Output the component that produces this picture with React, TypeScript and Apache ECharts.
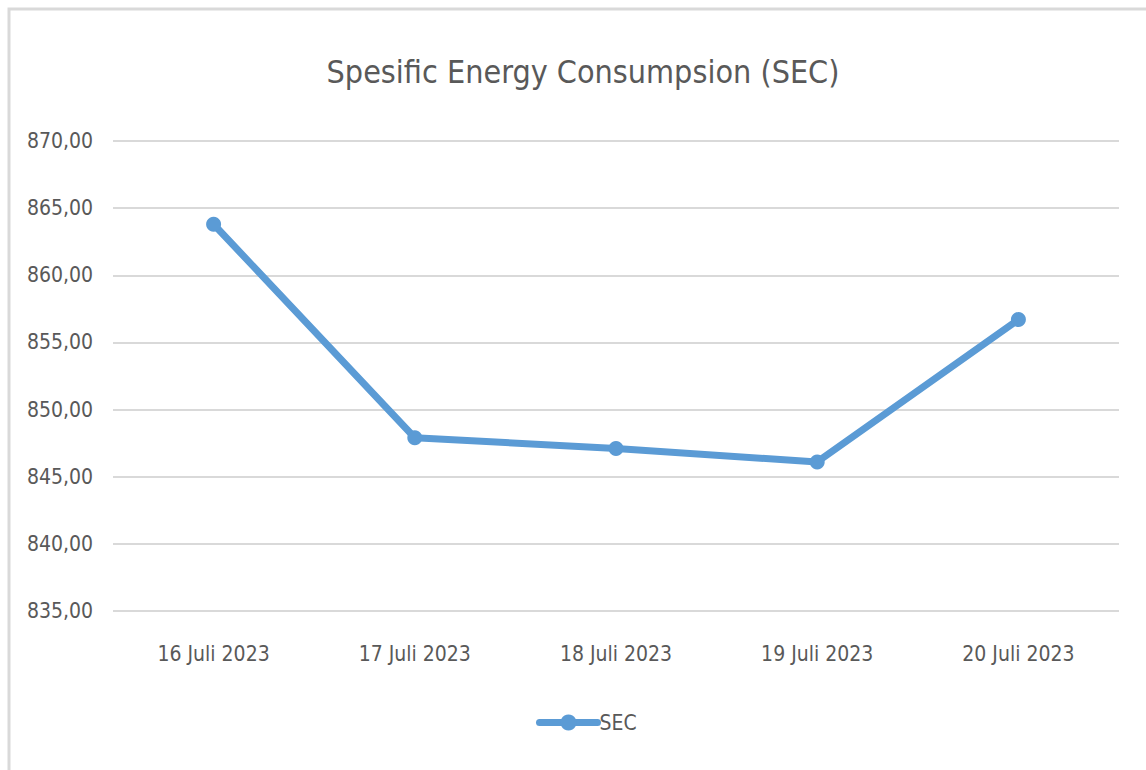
import React, { useEffect, useRef } from "react";
import * as echarts from "echarts";

const categories = ["16 Juli 2023", "17 Juli 2023", "18 Juli 2023", "19 Juli 2023", "20 Juli 2023"];
const secValues = [863.8, 847.9, 847.1, 846.1, 856.7];
const yMin = 835;
const yMax = 870;
const yStep = 5;

const FONT = "'Liberation Sans Narrow', 'DejaVu Sans Condensed', 'Liberation Sans', sans-serif";
const TEXT = "#595959";
const BLUE = "#5B9BD5";

export default function App() {
  const ref = useRef<HTMLDivElement>(null);
  useEffect(() => {
    if (!ref.current) return;
    const chart = echarts.init(ref.current, null, { renderer: "svg" });
    chart.setOption({
      animation: false,
      backgroundColor: "#ffffff",
      textStyle: { fontFamily: FONT },
      title: {
        text: "Spesific Energy Consumpsion (SEC)",
        left: 578,
        top: 51,
        textAlign: "center",
        textStyle: { fontFamily: FONT, fontSize: 32, fontWeight: "normal", color: TEXT },
      },
      graphic: [
        {
          type: "rect",
          shape: { x: 9, y: 9, width: 1200, height: 800 },
          style: { fill: "none", stroke: "#d9d9d9", lineWidth: 3 },
          silent: true,
        },
      ],
      grid: { left: 113, right: 27, top: 141, bottom: 159, containLabel: false },
      legend: {
        bottom: 32,
        left: 531,
        data: ["SEC"],
        itemWidth: 58,
        itemHeight: 20,
        itemGap: 4,
        lineStyle: { width: 7, cap: "round" },
        textStyle: { fontFamily: FONT, fontSize: 21, color: TEXT, padding: [0, 0, 0, -3] },
      },
      xAxis: {
        type: "category",
        data: categories,
        boundaryGap: true,
        axisLine: { show: false },
        axisTick: { show: false },
        axisLabel: { fontFamily: FONT, fontSize: 21, color: TEXT, margin: 32 },
      },
      yAxis: {
        type: "value",
        min: yMin,
        max: yMax,
        interval: yStep,
        axisLine: { show: false },
        axisTick: { show: false },
        splitLine: { lineStyle: { color: "#d9d9d9", width: 2 } },
        axisLabel: {
          fontFamily: FONT,
          fontSize: 21,
          color: TEXT,
          margin: 20,
          formatter: (v: number) => v.toFixed(2).replace(".", ","),
        },
      },
      series: [
        {
          name: "SEC",
          type: "line",
          data: secValues,
          symbol: "circle",
          symbolSize: 15,
          lineStyle: { color: BLUE, width: 7, cap: "round", join: "round" },
          itemStyle: { color: BLUE },
        },
      ],
    });
    return () => chart.dispose();
  }, []);
  return (
    <div
      ref={ref}
      style={{ position: "fixed", left: 0, top: 0, width: 1146, height: 770 }}
    />
  );
}
